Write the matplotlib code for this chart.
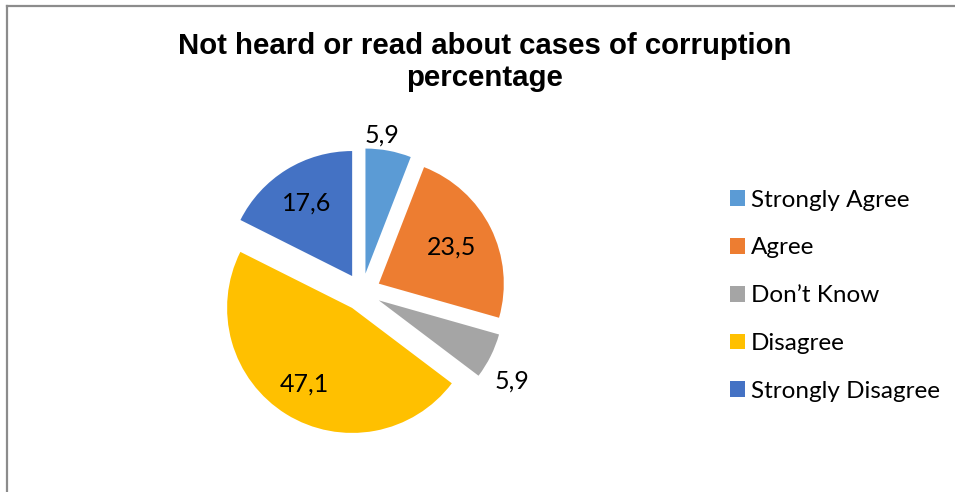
import numpy as np
import matplotlib
matplotlib.use("Agg")
import matplotlib.pyplot as plt
from matplotlib.lines import Line2D
from matplotlib.patches import Patch

categories = ["Strongly Agree", "Agree", "Don\u2019t Know", "Disagree", "Strongly Disagree"]
values = [5.9, 23.5, 5.9, 47.1, 17.6]
value_labels = ["5,9", "23,5", "5,9", "47,1", "17,6"]
colors = ["#5B9BD5", "#ED7D31", "#A5A5A5", "#FFC000", "#4472C4"]
title = "Not heard or read about cases of corruption\npercentage"

# radial position of each value label (in pie radii from the centre)
label_dist = [1.28, 0.80, 1.38, 0.87, 0.84]
# small nudges (points) for the labels placed outside the slices
label_nudge = [(-7, 0), (0, 0), (-3, -9), (0, 0), (0, 0)]

W, H, DPI = 955, 492, 100
fig = plt.figure(figsize=(W / DPI, H / DPI), dpi=DPI)
fig.patch.set_facecolor("white")

# pie: radius 125 px centred at (362, 292) from top-left
r_px = 125
cx, cy = 362, H - 292
lim = 1.2
side = 2 * lim * r_px
ax = fig.add_axes([(cx - side / 2) / W, (cy - side / 2) / H, side / W, side / H])
wedges, _ = ax.pie(values, colors=colors, startangle=90, counterclock=False,
                   explode=[0.15] * len(values), radius=1.0,
                   wedgeprops=dict(linewidth=0))
ax.set_xlim(-lim, lim)
ax.set_ylim(-lim, lim)
ax.set_aspect("equal")
ax.axis("off")

for w, txt, d, nudge in zip(wedges, value_labels, label_dist, label_nudge):
    mid = np.deg2rad((w.theta1 + w.theta2) / 2)
    ax.annotate(txt, xy=(d * np.cos(mid), d * np.sin(mid)), xytext=nudge,
                textcoords="offset points", ha="center", va="center",
                fontsize=18, family="Lato", color="#000000",
                annotation_clip=False)

fig.text(485 / W, 1 - 62 / H, title, ha="center", va="center", fontsize=21.2,
         fontweight="bold", family="Liberation Sans", linespacing=1.22)

handles = [Patch(facecolor=c, edgecolor="none") for c in colors]
leg = fig.legend(handles, categories, loc="upper left",
                 bbox_to_anchor=(720 / W, 1 - 180 / H), frameon=False,
                 prop=dict(family="Lato", size=17.5), handlelength=0.62,
                 handleheight=0.62, handletextpad=0.25, labelspacing=1.1,
                 borderaxespad=0)

# frame lines along the top and left edges
fig.add_artist(Line2D([6.5 / W, 1], [1 - 5.5 / H, 1 - 5.5 / H], color="#8c8c8c",
                      linewidth=1.6, transform=fig.transFigure))
fig.add_artist(Line2D([6.5 / W, 6.5 / W], [0, 1 - 5.5 / H], color="#8c8c8c",
                      linewidth=1.6, transform=fig.transFigure))

fig.savefig("out.png", dpi=DPI, facecolor="white")
